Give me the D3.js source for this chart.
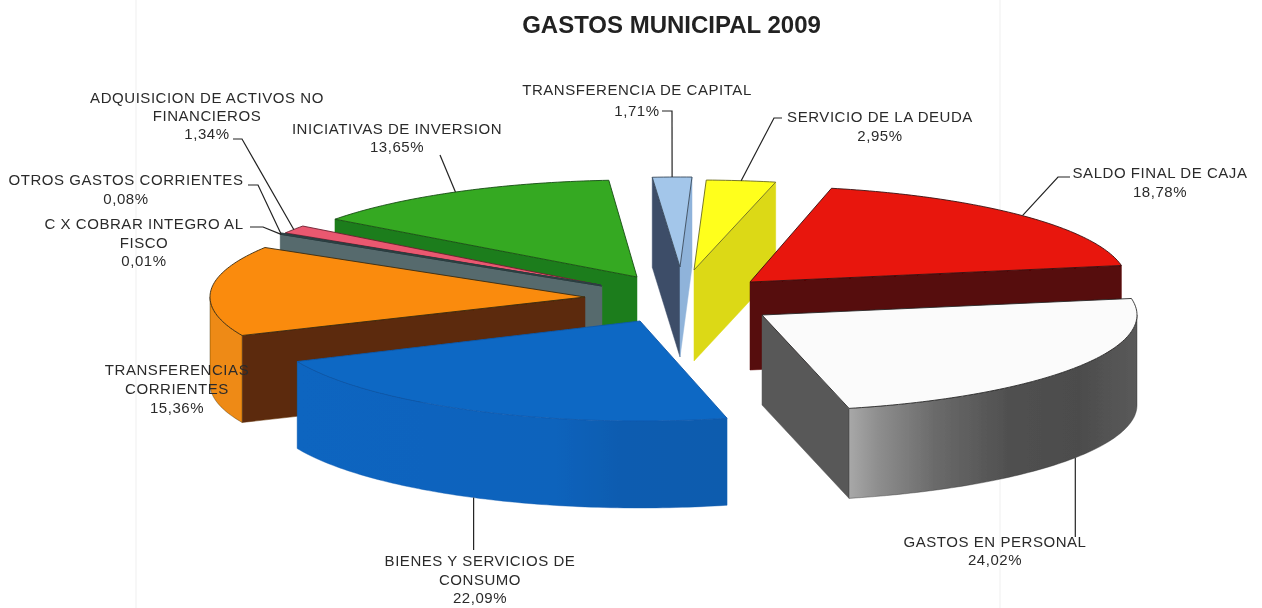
<!DOCTYPE html>
<html><head><meta charset="utf-8">
<script src="https://cdn.jsdelivr.net/npm/d3@7/dist/d3.min.js"></script>
<style>html,body{margin:0;padding:0;background:#fff;overflow:hidden}svg{display:block}</style>
</head><body><svg id="c" width="1262" height="608"></svg>
<script>
// ---- data ----
const title = "GASTOS MUNICIPAL 2009";
const categories = ["TRANSFERENCIA DE CAPITAL","SERVICIO DE LA DEUDA","SALDO FINAL DE CAJA","GASTOS EN PERSONAL","BIENES Y SERVICIOS DE CONSUMO","TRANSFERENCIAS CORRIENTES","C X COBRAR INTEGRO AL FISCO","OTROS GASTOS CORRIENTES","ADQUISICION DE ACTIVOS NO FINANCIEROS","INICIATIVAS DE INVERSION"];
const values = [1.71,2.95,18.78,24.02,22.09,15.36,0.01,0.08,1.34,13.65];
const labelLines = [["TRANSFERENCIA DE CAPITAL"],["SERVICIO DE LA DEUDA"],["SALDO FINAL DE CAJA"],["GASTOS EN PERSONAL"],["BIENES Y SERVICIOS DE","CONSUMO"],["TRANSFERENCIAS","CORRIENTES"],["C X COBRAR INTEGRO AL","FISCO"],["OTROS GASTOS CORRIENTES"],["ADQUISICION DE ACTIVOS NO","FINANCIEROS"],["INICIATIVAS DE INVERSION"]];

// ---- layout and style (one row per slice, same order as the data) ----
const explode = [
 {x:680,y:267,rx:370,ry:90,d:90},{x:694,y:270,rx:378,ry:90,d:91},{x:750,y:282,rx:377,ry:96,d:88},
 {x:762,y:315,rx:375,ry:96,d:90},{x:640,y:321,rx:375,ry:100,d:87},{x:585,y:297,rx:375,ry:95,d:87},
 {x:602,y:286,rx:376,ry:99,d:88},{x:601,y:285,rx:376,ry:99,d:88},{x:600,y:285,rx:370,ry:99,d:88},{x:637,y:277,rx:376,ry:97,d:88}];
const colors = [
 {top:"#a3c6ea",start:"#3c4d68",end:"#8fb3da",outer:"#8fb3da",line:"#3a4a5a"},
 {top:"#ffff1c",start:"#dcd914",end:"#dcd914",outer:"#dcd914",line:"#6a6a20"},
 {top:"#e8180e",start:"#560808",end:"#560808",outer:"#560808",line:"#3a1010"},
 {top:"#fbfbfb",start:"#585858",end:"#585858",outer:"url(#grayWall)",line:"#2a2a2a"},
 {top:"#0f68c4",start:"#0e5fb8",end:"#0e5fb8",outer:"url(#blueWall)",line:"#0c59ad"},
 {top:"#fa8b0c",start:"#5c2a08",end:"#5c2a08",outer:"#ee8a12",line:"#3a2a10"},
 {top:"#1d3f4c",start:"#566a6d",end:"#566a6d",outer:"#566a6d",line:"#2a3c40"},
 {top:"#2a4a52",start:"#566a6d",end:"#566a6d",outer:"#566a6d",line:"#2a3c40"},
 {top:"#ea5870",start:"#6a1020",end:"#6a1020",outer:"#6a1020",line:"#6a2030"},
 {top:"#35a920",start:"#1f7d1b",end:"#1f7d1b",outer:"#1f7d1b",line:"#174d14"}];
const leaderElbows = [
 [[662,111],[672,111]],[[782,118],[774,118]],[[1070,177],[1058,177]],[],[],[],
 [[250,227],[263,227]],[[248,185],[258,185]],[[233,139],[242,139]],[[440,155]]];
const leaderDrop = [0,0,0,1,1,0,0,0,0,0];   // leader meets the bottom of the slice wall
const leaderEnd = [null,null,null,537,550,null,null,null,null,null];
const labelPos = [
 {x:637,y:95,lh:21},{x:880,y:122,lh:19},{x:1160,y:178,lh:19},{x:995,y:547,lh:18},{x:480,y:566,lh:18.5},
 {x:177,y:375,lh:19},{x:144,y:229,lh:18.5},{x:126,y:185,lh:18.5},{x:207,y:103,lh:18},{x:397,y:134,lh:18}];
const drawOrder = [0,1,9,8,7,6,5,2,3,4];
const startDeg = -4.3;

// ---- build ----
const svg = d3.select("#c");
const defs = svg.append("defs");
function grad(id, stops){
  const g = defs.append("linearGradient").attr("id",id);
  stops.forEach(s=>g.append("stop").attr("offset",s[0]).attr("stop-color",s[1]));
}
grad("grayWall",[[0,"#a8a8a8"],[0.1,"#8e8e8e"],[0.3,"#6a6a6a"],[0.55,"#505050"],[0.8,"#4c4c4c"],[1,"#5a5a5a"]]);
grad("blueWall",[[0,"#0f65c0"],[0.6,"#0e63bc"],[0.75,"#0d5cb0"],[1,"#0d5cae"]]);
defs.append("filter").attr("id","soft").append("feGaussianBlur").attr("stdDeviation",0.35);

// faint scan lines behind everything
[136,1000].forEach(x=>svg.append("line").attr("x1",x).attr("x2",x).attr("y1",0).attr("y2",608).attr("stroke","#efefef").attr("stroke-width",1));

const toRad = Math.PI/180;
const pie = d3.pie().sort(null).startAngle(startDeg*toRad).endAngle((startDeg+360)*toRad);
const arcs = pie(values);
const pt = (i,a,dz=0)=>{
  const e = explode[i];
  return [e.x + e.rx*Math.sin(a), e.y - e.ry*Math.cos(a) + dz];
};
const line = d3.line();
const arcPts = (i,a0,a1,dz=0)=>{
  const n = Math.max(2,Math.ceil(Math.abs(a1-a0)/(1*toRad)));
  return d3.range(n+1).map(k=>pt(i,a0+(a1-a0)*k/n,dz));
};
const chart = svg.append("g").attr("filter","url(#soft)");
drawOrder.forEach(i=>{
  const a = arcs[i], e = explode[i], c = colors[i], g = chart.append("g");
  const apex=[e.x,e.y], apexB=[e.x,e.y+e.d];
  const wall=(ang,fill)=>g.append("path")
    .attr("d",line([apex,pt(i,ang),pt(i,ang,e.d),apexB])+"Z").attr("fill",fill).attr("stroke",fill).attr("stroke-width",0.5);
  if(Math.sin(a.startAngle)<0) wall(a.startAngle,c.start);
  if(Math.sin(a.endAngle)>0) wall(a.endAngle,c.end);
  // outer curved wall: only the part that faces the viewer
  const lo=Math.max(a.startAngle,90*toRad), hi=Math.min(a.endAngle,270*toRad);
  if(hi>lo){
    const pts=arcPts(i,lo,hi).concat(arcPts(i,hi,lo,e.d));
    g.append("path").attr("d",line(pts)+"Z").attr("fill",c.outer).attr("stroke",c.line).attr("stroke-width",0.4);
  }
  g.append("path").attr("d",line([apex].concat(arcPts(i,a.startAngle,a.endAngle)))+"Z")
    .attr("fill",c.top).attr("stroke",c.line).attr("stroke-width",0.9).attr("stroke-linejoin","round");
});

// leaders
const leaders = svg.append("g").attr("fill","none").attr("stroke","#222").attr("stroke-width",1.2).attr("filter","url(#soft)");
arcs.forEach((a,i)=>{
  if(i===5) return;
  const mid=(a.startAngle+a.endAngle)/2;
  const p=pt(i,mid,leaderDrop[i]?explode[i].d:0);
  const pts= leaderEnd[i]!==null ? [p,[p[0],leaderEnd[i]]] : leaderElbows[i].concat([p]);
  leaders.append("path").attr("d",line(pts));
});

// labels
const fmt = d3.formatLocale({decimal:",",thousands:".",grouping:[3],currency:["",""]}).format(".2f");
const text = svg.append("g").attr("font-family","'Liberation Sans',Arial,sans-serif").attr("font-size",15)
  .attr("fill","#2b2b2b").attr("text-anchor","middle").attr("filter","url(#soft)");
categories.forEach((name,i)=>{
  const lp=labelPos[i], lines=labelLines[i].concat([fmt(values[i])+"%"]);
  lines.forEach((t,k)=>text.append("text").attr("x",lp.x).attr("y",lp.y+k*lp.lh).attr("letter-spacing",0.55).text(t));
});
svg.append("text").attr("x",671.5).attr("y",33).attr("text-anchor","middle")
  .attr("font-family","'Liberation Sans',Arial,sans-serif").attr("font-weight","bold").attr("font-size",24)
  .attr("fill","#222").attr("filter","url(#soft)").text(title);
</script></body></html>
